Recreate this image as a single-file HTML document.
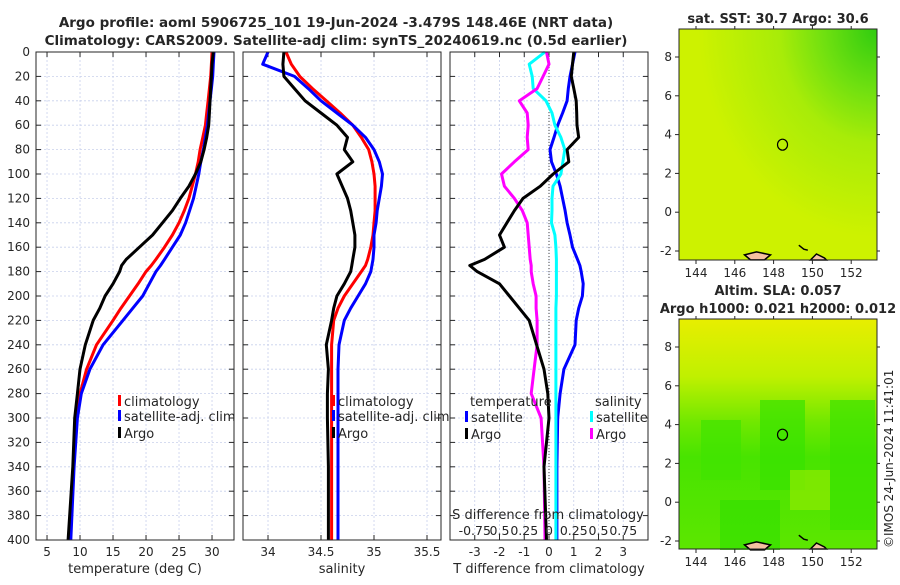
<!DOCTYPE html>
<html><head><meta charset="utf-8"><style>
body{margin:0;background:#fff;width:900px;height:580px;overflow:hidden}
svg text{font-family:"DejaVu Sans","Liberation Sans",sans-serif;fill:#262626}
</style></head><body>
<svg id="c" width="900" height="580" xmlns="http://www.w3.org/2000/svg">
<defs>
<radialGradient id="sstg" cx="1" cy="0" r="0.9">
<stop offset="0" stop-color="#30cc10"/><stop offset="0.3" stop-color="#70e010"/><stop offset="0.55" stop-color="#a8ec08"/><stop offset="1" stop-color="#cdf200"/></radialGradient>
<linearGradient id="slag" x1="0" y1="0" x2="0" y2="1">
<stop offset="0" stop-color="#e8ee00"/><stop offset="0.25" stop-color="#c0f000"/><stop offset="0.45" stop-color="#70e800"/><stop offset="0.6" stop-color="#48e400"/><stop offset="1" stop-color="#5ce600"/></linearGradient>
</defs>
<text x="336" y="27" text-anchor="middle" font-size="13.5" font-weight="bold">Argo profile: aoml 5906725_101 19-Jun-2024 -3.479S 148.46E (NRT data)</text>
<text x="336" y="45" text-anchor="middle" font-size="13.5" font-weight="bold">Climatology: CARS2009. Satellite-adj clim: synTS_20240619.nc (0.5d earlier)</text>
</svg>
<script>
const depths=[0,10,20,30,40,50,60,70,80,90,100,110,120,130,140,150,160,170,175,180,190,200,210,220,240,260,280,300,340,400];
const tempClim=[30.0,29.9,29.8,29.6,29.4,29.2,29.0,28.6,28.2,27.9,27.5,27.0,26.5,25.8,25.0,24.0,22.8,21.5,20.8,20.0,18.8,17.5,16.2,15.0,12.5,11.0,10.0,9.5,9.0,8.3];
const tempSat=[30.3,30.2,30.1,29.9,29.7,29.5,29.3,29.0,28.7,28.3,28.0,27.6,27.2,26.6,26.0,25.2,24.0,22.8,22.2,21.5,20.5,19.5,18.0,16.5,13.5,11.5,10.2,9.6,9.1,8.6];
const tempArgo=[30.2,30.0,29.9,29.8,29.7,29.6,29.5,29.2,28.8,28.3,27.5,26.5,25.2,24.0,22.5,21.0,19.0,17.0,16.3,16.0,15.0,13.8,13.0,12.0,10.8,10.0,9.6,9.2,8.9,8.2];
const salClim=[34.17,34.22,34.3,34.42,34.55,34.68,34.8,34.88,34.95,34.98,35.0,35.01,35.01,35.01,35.0,34.99,34.97,34.94,34.92,34.88,34.8,34.72,34.66,34.62,34.6,34.6,34.6,34.6,34.6,34.6];
const salSat=[34.0,33.95,34.25,34.38,34.5,34.65,34.8,34.92,35.0,35.05,35.08,35.07,35.05,35.03,35.02,35.0,35.0,34.99,34.98,34.97,34.92,34.85,34.78,34.72,34.67,34.66,34.66,34.66,34.66,34.66];
const salArgo=[34.15,34.14,34.15,34.25,34.35,34.5,34.65,34.75,34.72,34.8,34.65,34.7,34.75,34.78,34.8,34.82,34.82,34.8,34.79,34.78,34.72,34.65,34.62,34.6,34.55,34.57,34.56,34.56,34.57,34.57];
const dTsat=[1.05,0.95,0.85,0.78,0.73,0.55,0.35,0.2,0.04,0.1,0.3,0.45,0.55,0.65,0.73,0.85,0.95,1.15,1.25,1.3,1.38,1.35,1.2,1.1,1.05,0.6,0.45,0.35,0.32,0.32];
const dTargo=[1.0,0.95,0.9,1.0,1.1,1.12,1.13,1.2,0.73,0.8,0.17,-0.35,-1.05,-1.4,-1.7,-2.0,-1.8,-2.6,-3.2,-2.9,-2.0,-1.6,-1.2,-0.8,-0.5,-0.2,-0.05,0.0,-0.2,-0.1];
const dSsat=[-0.04,-0.2,-0.17,-0.16,-0.03,0.03,0.06,0.12,0.16,0.14,0.12,0.04,0.03,0.03,0.025,0.06,0.07,0.075,0.075,0.075,0.075,0.075,0.07,0.07,0.07,0.07,0.07,0.07,0.07,0.07];
const dSargo=[-0.025,0.0,-0.06,-0.12,-0.3,-0.22,-0.21,-0.22,-0.21,-0.35,-0.48,-0.45,-0.35,-0.27,-0.22,-0.21,-0.2,-0.19,-0.18,-0.18,-0.16,-0.13,-0.13,-0.12,-0.12,-0.15,-0.18,-0.08,-0.05,-0.04];
const depthTicks=[0,20,40,60,80,100,120,140,160,180,200,220,240,260,280,300,320,340,360,380,400];
const tempTicks=[5,10,15,20,25,30];
const salTicks=[34,34.5,35,35.5];
const dTicks=[-3,-2,-1,0,1,2,3];
const sdLabels=["-0.75","0.5","0.25","0","0.25","0.5","0.75"];
const lonTicks=[144,146,148,150,152];
const latTicks=[8,6,4,2,0,-2];

const svg=document.getElementById('c');const NS='http://www.w3.org/2000/svg';
function mk(t,a,p){const e=document.createElementNS(NS,t);for(const k in a)e.setAttribute(k,a[k]);(p||svg).appendChild(e);return e;}
const Y0=52,Y1=540;const yS=d=>Y0+(d/400)*(Y1-Y0);
const panels=[
 {x0:36,x1:234,lo:3.33,hi:33.33,ticks:tempTicks,label:'temperature (deg C)',name:'temperature-panel'},
 {x0:243,x1:441,lo:33.764,hi:35.632,ticks:salTicks,label:'salinity',name:'salinity-panel'},
 {x0:450,x1:648,lo:-4,hi:4,ticks:dTicks,label:'T difference from climatology',name:'difference-panel'}];
panels.forEach((p,i)=>{
 p.xS=v=>p.x0+(v-p.lo)/(p.hi-p.lo)*(p.x1-p.x0);
 const g=mk('g',{});
 mk('rect',{x:p.x0,y:Y0,width:p.x1-p.x0,height:Y1-Y0,fill:'#fff'},g);
 depthTicks.forEach(d=>{const y=yS(d);
  mk('line',{x1:p.x0,x2:p.x1,y1:y,y2:y,stroke:'#c8d0ec','stroke-width':0.8,'stroke-dasharray':'2,2'},g);
  mk('line',{x1:p.x0,x2:p.x0+5,y1:y,y2:y,stroke:'#262626'},g);
  mk('line',{x1:p.x1,x2:p.x1-5,y1:y,y2:y,stroke:'#262626'},g);
  if(i===0){const t=mk('text',{x:30,y:y+4,'text-anchor':'end','font-size':12},g);t.textContent=d;}
 });
 p.ticks.forEach(v=>{const x=p.xS(v);
  mk('line',{x1:x,x2:x,y1:Y0,y2:Y1,stroke:'#c8d0ec','stroke-width':0.8,'stroke-dasharray':'2,2'},g);
  mk('line',{x1:x,x2:x,y1:Y1,y2:Y1-5,stroke:'#262626'},g);
  mk('line',{x1:x,x2:x,y1:Y0,y2:Y0+5,stroke:'#262626'},g);
  const t=mk('text',{x:x,y:556,'text-anchor':'middle','font-size':12},g);t.textContent=v;
  
 });
 const xl=mk('text',{x:(p.x0+p.x1)/2,y:573,'text-anchor':'middle','font-size':13},g);xl.textContent=p.label;
 
 p.g=g;
});
function line(p,vals,col,name,scale){
 const pts=vals.map((v,k)=>p.xS(v*(scale||1)).toFixed(1)+','+yS(depths[k]).toFixed(1)).join(' ');
 const e=mk('polyline',{points:pts,fill:'none',stroke:col,'stroke-width':3,'stroke-linejoin':'round'},p.g);
 
}
const P=panels;
mk('line',{x1:P[2].xS(0),x2:P[2].xS(0),y1:Y0,y2:Y1,stroke:'#444','stroke-width':1,'stroke-dasharray':'1,2'},P[2].g);
line(P[0],tempClim,'#f00','temp-climatology-line');line(P[0],tempSat,'#00f','temp-satellite-line');line(P[0],tempArgo,'#000','temp-argo-line');
line(P[1],salClim,'#f00','sal-climatology-line');line(P[1],salSat,'#00f','sal-satellite-line');line(P[1],salArgo,'#000','sal-argo-line');
line(P[2],dTsat,'#00f','tdiff-satellite-line');line(P[2],dSsat,'#0ff','sdiff-satellite-line',4);line(P[2],dSargo,'#f0f','sdiff-argo-line',4);line(P[2],dTargo,'#000','tdiff-argo-line');
P.forEach(p=>{mk('rect',{x:p.x0,y:Y0,width:p.x1-p.x0,height:Y1-Y0,fill:'none',stroke:'#262626','stroke-width':1},p.g);});
function leg(g,x,y,col,txt){ if(col){mk('rect',{x:x-6,y:y-11,width:3,height:11,fill:col},g);}
 const t=mk('text',{x:x,y:y,'font-size':13},g);t.textContent=txt;}
[[P[0].g,124],[P[1].g,338]].forEach(([g,x])=>{leg(g,x,406,'#f00','climatology');leg(g,x,421,'#00f','satellite-adj. clim');leg(g,x,438,'#000','Argo');});
leg(P[2].g,470,406,null,'temperature');leg(P[2].g,471,422,'#00f','satellite');leg(P[2].g,471,439,'#000','Argo');
leg(P[2].g,595,406,null,'salinity');leg(P[2].g,596,422,'#0ff','satellite');leg(P[2].g,596,439,'#f0f','Argo');
let st=mk('text',{x:548,y:519,'text-anchor':'middle','font-size':13},P[2].g);st.textContent='S difference from climatology';

sdLabels.forEach((s,k)=>{const t=mk('text',{x:P[2].xS(dTicks[k]),y:535,'text-anchor':'middle','font-size':12.5},P[2].g);t.textContent=s;
 });
function map(top,bot,fill,name,t1){
 const x0=679,x1=877;const g=mk('g',{});
 const lonS=v=>696+(v-144)*19.4;const latS=v=>top+28+(8-v)*19.4;
 mk('rect',{x:x0,y:top,width:x1-x0,height:bot-top,fill:fill},g);
 if(name==='sla-map'){[[701,420,40,60,'#40e400'],[760,400,45,90,'#38e200'],[830,400,45,130,'#3ae200'],[720,500,60,50,'#34e000'],[790,470,40,40,'#90ea00']].forEach(r=>mk('rect',{x:r[0],y:r[1],width:r[2],height:r[3],fill:r[4],opacity:0.7},g));}
 mk('path',{d:`M${lonS(146.5)} ${latS(-2.2)} l12 -3 l14 3 l-6 5 l-14 0 z`,fill:'#f4c0a0',stroke:'#000','stroke-width':1.5},g);
 mk('path',{d:`M${lonS(149.9)} ${bot} l6 -6 l8 4 l2 2 z`,fill:'#f4c0a0',stroke:'#000','stroke-width':1.5},g);
 mk('path',{d:`M${lonS(149.3)} ${latS(-1.7)} l5 4 l4 1`,fill:'none',stroke:'#000','stroke-width':1.5},g);
 const c=mk('ellipse',{cx:lonS(148.46),cy:latS(3.48),rx:5,ry:5.5,fill:'none',stroke:'#000','stroke-width':1.2},g);
 
 mk('rect',{x:x0,y:top,width:x1-x0,height:bot-top,fill:'none',stroke:'#262626'},g);
 lonTicks.forEach(v=>{const x=lonS(v);mk('line',{x1:x,x2:x,y1:bot,y2:bot+4,stroke:'#262626'},g);mk('line',{x1:x,x2:x,y1:top,y2:top-3,stroke:'#262626'},g);
  const t=mk('text',{x:x,y:bot+17,'text-anchor':'middle','font-size':12},g);t.textContent=v;});
 latTicks.forEach(v=>{const y=latS(v);mk('line',{x1:x0,x2:x0-4,y1:y,y2:y,stroke:'#262626'},g);mk('line',{x1:x1,x2:x1+3,y1:y,y2:y,stroke:'#262626'},g);
  const t=mk('text',{x:672,y:y+4,'text-anchor':'end','font-size':12},g);t.textContent=v;});
 t1.forEach((s,k)=>{const t=mk('text',{x:778,y:top-(t1.length-1-k)*18-6,'text-anchor':'middle','font-size':13,'font-weight':'bold'},g);t.textContent=s;});
}
map(29,260,'url(#sstg)','sst-map',['sat. SST: 30.7 Argo: 30.6']);
map(319,549,'url(#slag)','sla-map',['Altim. SLA: 0.057','Argo h1000: 0.021 h2000: 0.012']);
const cr=mk('text',{x:0,y:0,'font-size':12,transform:'translate(893,548) rotate(-90)'});cr.textContent='©IMOS 24-Jun-2024 11:41:01';

</script>
</body></html>
